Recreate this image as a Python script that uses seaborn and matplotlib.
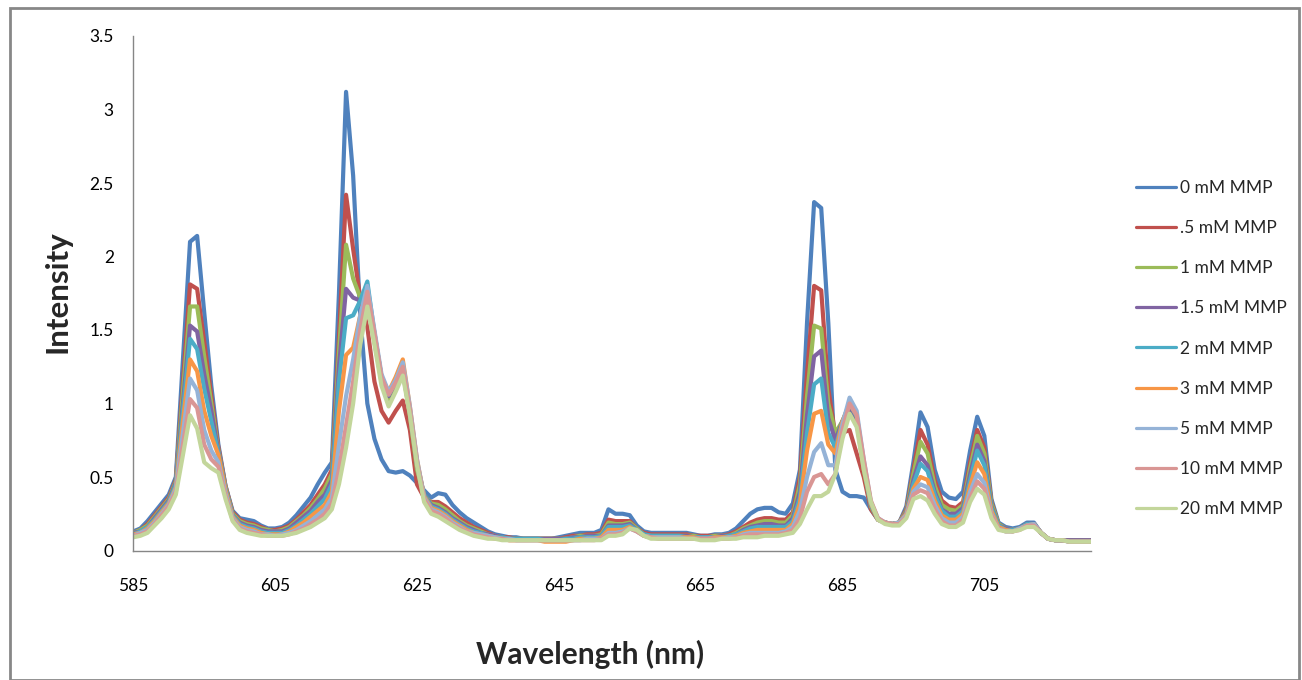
import matplotlib
matplotlib.use("Agg")
import matplotlib.pyplot as plt
from matplotlib.lines import Line2D
from matplotlib.patches import Rectangle
import pandas as pd
import seaborn as sns

# Emission spectra, 1 nm steps
wavelength = list(range(585, 721))

series_labels = ["0 mM MMP", ".5 mM MMP", "1 mM MMP", "1.5 mM MMP", "2 mM MMP",
                 "3 mM MMP", "5 mM MMP", "10 mM MMP", "20 mM MMP"]

series_colors = ["#4F81BD", "#C0504D", "#9BBB59", "#8064A2", "#4BACC6",
                 "#F79646", "#95B3D7", "#D99694", "#C3D69B"]

mmp_0 = [
    0.13, 0.15, 0.20, 0.26, 0.32, 0.38, 0.50, 1.30, 2.10, 2.14,
    1.62, 1.12, 0.72, 0.44, 0.27, 0.22, 0.21, 0.20, 0.17, 0.15,
    0.15, 0.16, 0.19, 0.24, 0.30, 0.36, 0.45, 0.53, 0.60, 1.75,
    3.12, 2.55, 1.60, 1.00, 0.76, 0.62, 0.54, 0.53, 0.54, 0.51,
    0.46, 0.41, 0.36, 0.39, 0.38, 0.31, 0.26, 0.22, 0.19, 0.16,
    0.13, 0.11, 0.10, 0.09, 0.09, 0.08, 0.08, 0.08, 0.08, 0.08,
    0.09, 0.10, 0.11, 0.12, 0.12, 0.12, 0.14, 0.28, 0.25, 0.25,
    0.24, 0.17, 0.13, 0.12, 0.12, 0.12, 0.12, 0.12, 0.12, 0.11,
    0.10, 0.10, 0.11, 0.11, 0.12, 0.15, 0.20, 0.25, 0.28, 0.29,
    0.29, 0.26, 0.25, 0.32, 0.55, 1.55, 2.37, 2.33, 1.55, 0.55,
    0.40, 0.37, 0.37, 0.36, 0.28, 0.21, 0.19, 0.18, 0.19, 0.30,
    0.60, 0.94, 0.84, 0.55, 0.40, 0.36, 0.35, 0.40, 0.68, 0.91,
    0.78, 0.35, 0.19, 0.16, 0.15, 0.16, 0.19, 0.19, 0.12, 0.08,
    0.07, 0.07, 0.07, 0.07, 0.07, 0.07,
]

mmp_05 = [
    0.12, 0.14, 0.18, 0.24, 0.30, 0.36, 0.48, 1.15, 1.81, 1.78,
    1.42, 1.05, 0.70, 0.44, 0.26, 0.21, 0.19, 0.18, 0.16, 0.14,
    0.14, 0.15, 0.17, 0.21, 0.26, 0.31, 0.38, 0.45, 0.55, 1.45,
    2.42, 2.05, 1.72, 1.52, 1.15, 0.95, 0.87, 0.95, 1.02, 0.82,
    0.45, 0.36, 0.33, 0.33, 0.30, 0.26, 0.22, 0.19, 0.16, 0.14,
    0.12, 0.10, 0.09, 0.09, 0.08, 0.08, 0.08, 0.08, 0.08, 0.08,
    0.08, 0.09, 0.10, 0.10, 0.11, 0.11, 0.12, 0.21, 0.20, 0.20,
    0.20, 0.15, 0.12, 0.11, 0.11, 0.11, 0.11, 0.11, 0.11, 0.10,
    0.10, 0.10, 0.10, 0.10, 0.11, 0.13, 0.16, 0.19, 0.21, 0.22,
    0.22, 0.21, 0.21, 0.26, 0.50, 1.20, 1.80, 1.77, 1.10, 0.78,
    0.80, 0.82, 0.66, 0.50, 0.28, 0.21, 0.19, 0.18, 0.19, 0.28,
    0.55, 0.82, 0.72, 0.48, 0.34, 0.30, 0.29, 0.33, 0.60, 0.82,
    0.70, 0.33, 0.18, 0.15, 0.14, 0.15, 0.18, 0.18, 0.12, 0.08,
    0.07, 0.07, 0.07, 0.07, 0.07, 0.07,
]

mmp_1 = [
    0.12, 0.14, 0.17, 0.23, 0.29, 0.35, 0.47, 1.08, 1.66, 1.66,
    1.32, 1.00, 0.68, 0.43, 0.25, 0.20, 0.18, 0.17, 0.15, 0.14,
    0.13, 0.14, 0.16, 0.20, 0.24, 0.29, 0.35, 0.42, 0.52, 1.35,
    2.08, 1.85, 1.72, 1.70, 1.42, 1.15, 1.02, 1.12, 1.22, 0.92,
    0.55, 0.38, 0.32, 0.31, 0.28, 0.24, 0.20, 0.17, 0.15, 0.13,
    0.11, 0.10, 0.09, 0.08, 0.08, 0.08, 0.08, 0.08, 0.08, 0.08,
    0.08, 0.08, 0.09, 0.10, 0.10, 0.10, 0.11, 0.19, 0.18, 0.18,
    0.19, 0.15, 0.11, 0.10, 0.10, 0.10, 0.10, 0.10, 0.10, 0.10,
    0.09, 0.09, 0.10, 0.10, 0.10, 0.12, 0.15, 0.17, 0.19, 0.20,
    0.20, 0.19, 0.19, 0.24, 0.45, 1.05, 1.53, 1.51, 1.00, 0.80,
    0.88, 0.96, 0.88, 0.55, 0.30, 0.21, 0.19, 0.18, 0.19, 0.27,
    0.52, 0.74, 0.66, 0.44, 0.31, 0.28, 0.27, 0.31, 0.56, 0.78,
    0.66, 0.32, 0.18, 0.15, 0.14, 0.15, 0.18, 0.18, 0.12, 0.08,
    0.07, 0.07, 0.07, 0.07, 0.07, 0.07,
]

mmp_15 = [
    0.12, 0.13, 0.16, 0.22, 0.28, 0.34, 0.46, 1.00, 1.53, 1.49,
    1.20, 0.95, 0.67, 0.42, 0.24, 0.19, 0.17, 0.16, 0.14, 0.13,
    0.13, 0.13, 0.15, 0.19, 0.23, 0.27, 0.33, 0.38, 0.48, 1.25,
    1.78, 1.72, 1.70, 1.75, 1.45, 1.18, 1.05, 1.15, 1.22, 0.94,
    0.58, 0.38, 0.31, 0.29, 0.26, 0.22, 0.19, 0.16, 0.14, 0.12,
    0.11, 0.10, 0.09, 0.08, 0.08, 0.08, 0.08, 0.08, 0.08, 0.08,
    0.08, 0.08, 0.09, 0.09, 0.10, 0.10, 0.10, 0.17, 0.17, 0.17,
    0.18, 0.14, 0.11, 0.10, 0.10, 0.10, 0.10, 0.10, 0.10, 0.09,
    0.09, 0.09, 0.09, 0.10, 0.10, 0.11, 0.14, 0.16, 0.17, 0.18,
    0.18, 0.17, 0.17, 0.22, 0.40, 0.92, 1.32, 1.36, 0.90, 0.75,
    0.88, 0.98, 0.90, 0.57, 0.31, 0.21, 0.19, 0.18, 0.19, 0.26,
    0.48, 0.64, 0.58, 0.40, 0.28, 0.25, 0.25, 0.29, 0.52, 0.72,
    0.61, 0.30, 0.17, 0.15, 0.14, 0.15, 0.18, 0.18, 0.12, 0.08,
    0.07, 0.07, 0.07, 0.07, 0.07, 0.07,
]

mmp_2 = [
    0.11, 0.13, 0.16, 0.21, 0.27, 0.33, 0.45, 0.95, 1.44, 1.37,
    1.10, 0.88, 0.66, 0.42, 0.24, 0.18, 0.16, 0.15, 0.13, 0.12,
    0.12, 0.12, 0.14, 0.17, 0.21, 0.25, 0.30, 0.35, 0.45, 1.15,
    1.58, 1.60, 1.70, 1.83, 1.48, 1.18, 1.06, 1.15, 1.25, 0.95,
    0.60, 0.38, 0.30, 0.28, 0.25, 0.21, 0.18, 0.15, 0.13, 0.12,
    0.10, 0.09, 0.09, 0.08, 0.08, 0.08, 0.08, 0.08, 0.07, 0.07,
    0.07, 0.08, 0.08, 0.09, 0.09, 0.09, 0.10, 0.16, 0.16, 0.16,
    0.17, 0.14, 0.11, 0.10, 0.10, 0.10, 0.10, 0.10, 0.09, 0.09,
    0.09, 0.09, 0.09, 0.09, 0.10, 0.11, 0.13, 0.15, 0.16, 0.16,
    0.16, 0.16, 0.16, 0.20, 0.36, 0.80, 1.13, 1.17, 0.80, 0.70,
    0.88, 1.00, 0.91, 0.58, 0.31, 0.21, 0.19, 0.18, 0.19, 0.25,
    0.45, 0.59, 0.54, 0.38, 0.27, 0.23, 0.23, 0.27, 0.48, 0.68,
    0.58, 0.29, 0.17, 0.14, 0.14, 0.15, 0.18, 0.18, 0.12, 0.08,
    0.07, 0.07, 0.06, 0.06, 0.06, 0.06,
]

mmp_3 = [
    0.11, 0.12, 0.15, 0.20, 0.26, 0.32, 0.43, 0.88, 1.30, 1.22,
    0.95, 0.78, 0.65, 0.41, 0.23, 0.17, 0.15, 0.14, 0.12, 0.11,
    0.11, 0.11, 0.13, 0.16, 0.19, 0.23, 0.27, 0.31, 0.40, 0.95,
    1.33, 1.38, 1.60, 1.76, 1.48, 1.18, 1.08, 1.18, 1.30, 0.98,
    0.62, 0.37, 0.29, 0.27, 0.24, 0.20, 0.17, 0.14, 0.12, 0.11,
    0.10, 0.09, 0.08, 0.07, 0.07, 0.07, 0.07, 0.07, 0.06, 0.06,
    0.06, 0.06, 0.07, 0.08, 0.08, 0.08, 0.09, 0.14, 0.14, 0.14,
    0.16, 0.13, 0.10, 0.09, 0.09, 0.09, 0.09, 0.09, 0.09, 0.09,
    0.08, 0.08, 0.09, 0.09, 0.09, 0.10, 0.12, 0.13, 0.14, 0.14,
    0.14, 0.14, 0.14, 0.18, 0.32, 0.68, 0.93, 0.95, 0.72, 0.66,
    0.88, 1.00, 0.92, 0.59, 0.32, 0.21, 0.19, 0.18, 0.19, 0.25,
    0.42, 0.50, 0.48, 0.34, 0.24, 0.21, 0.21, 0.25, 0.44, 0.60,
    0.52, 0.27, 0.16, 0.14, 0.13, 0.15, 0.17, 0.18, 0.12, 0.08,
    0.07, 0.07, 0.06, 0.06, 0.06, 0.06,
]

mmp_5 = [
    0.10, 0.12, 0.14, 0.19, 0.25, 0.31, 0.42, 0.80, 1.17, 1.09,
    0.82, 0.68, 0.60, 0.39, 0.22, 0.16, 0.14, 0.13, 0.11, 0.11,
    0.10, 0.11, 0.12, 0.14, 0.17, 0.20, 0.24, 0.28, 0.36, 0.72,
    1.05, 1.30, 1.60, 1.80, 1.50, 1.20, 1.08, 1.16, 1.28, 0.98,
    0.62, 0.36, 0.28, 0.26, 0.23, 0.19, 0.16, 0.13, 0.12, 0.11,
    0.10, 0.09, 0.08, 0.08, 0.07, 0.07, 0.07, 0.07, 0.07, 0.07,
    0.07, 0.07, 0.07, 0.07, 0.08, 0.08, 0.08, 0.12, 0.12, 0.13,
    0.15, 0.13, 0.10, 0.09, 0.09, 0.09, 0.09, 0.09, 0.08, 0.08,
    0.08, 0.08, 0.08, 0.08, 0.09, 0.09, 0.11, 0.12, 0.12, 0.12,
    0.12, 0.12, 0.13, 0.16, 0.27, 0.50, 0.67, 0.73, 0.58, 0.58,
    0.86, 1.04, 0.95, 0.62, 0.33, 0.22, 0.19, 0.18, 0.19, 0.24,
    0.40, 0.45, 0.43, 0.31, 0.22, 0.19, 0.19, 0.23, 0.40, 0.52,
    0.46, 0.25, 0.15, 0.13, 0.13, 0.15, 0.17, 0.18, 0.12, 0.08,
    0.07, 0.07, 0.06, 0.06, 0.06, 0.06,
]

mmp_10 = [
    0.10, 0.11, 0.13, 0.18, 0.24, 0.30, 0.40, 0.72, 1.03, 0.97,
    0.72, 0.62, 0.57, 0.37, 0.21, 0.15, 0.13, 0.12, 0.11, 0.10,
    0.10, 0.10, 0.11, 0.13, 0.15, 0.18, 0.21, 0.25, 0.32, 0.55,
    0.85, 1.15, 1.50, 1.76, 1.48, 1.18, 1.06, 1.14, 1.25, 0.96,
    0.60, 0.35, 0.27, 0.25, 0.22, 0.18, 0.15, 0.13, 0.11, 0.10,
    0.09, 0.08, 0.08, 0.07, 0.07, 0.07, 0.07, 0.07, 0.07, 0.07,
    0.07, 0.07, 0.07, 0.07, 0.07, 0.07, 0.08, 0.11, 0.11, 0.12,
    0.15, 0.13, 0.10, 0.09, 0.08, 0.08, 0.08, 0.08, 0.08, 0.08,
    0.08, 0.08, 0.08, 0.08, 0.08, 0.09, 0.10, 0.11, 0.11, 0.11,
    0.11, 0.11, 0.12, 0.14, 0.22, 0.40, 0.50, 0.52, 0.45, 0.52,
    0.82, 1.00, 0.92, 0.62, 0.34, 0.22, 0.19, 0.18, 0.18, 0.23,
    0.38, 0.41, 0.39, 0.28, 0.20, 0.17, 0.17, 0.21, 0.36, 0.47,
    0.42, 0.24, 0.15, 0.13, 0.13, 0.14, 0.17, 0.17, 0.12, 0.08,
    0.07, 0.07, 0.06, 0.06, 0.06, 0.06,
]

mmp_20 = [
    0.09, 0.10, 0.12, 0.17, 0.22, 0.28, 0.38, 0.65, 0.92, 0.83,
    0.60, 0.56, 0.53, 0.35, 0.20, 0.14, 0.12, 0.11, 0.10, 0.10,
    0.10, 0.10, 0.11, 0.12, 0.14, 0.16, 0.19, 0.22, 0.28, 0.45,
    0.70, 1.00, 1.40, 1.66, 1.40, 1.12, 0.98, 1.08, 1.19, 0.92,
    0.58, 0.33, 0.25, 0.23, 0.20, 0.17, 0.14, 0.12, 0.10, 0.09,
    0.08, 0.08, 0.07, 0.07, 0.07, 0.07, 0.07, 0.07, 0.07, 0.07,
    0.07, 0.07, 0.07, 0.07, 0.07, 0.07, 0.07, 0.10, 0.10, 0.11,
    0.15, 0.14, 0.10, 0.08, 0.08, 0.08, 0.08, 0.08, 0.08, 0.08,
    0.07, 0.07, 0.07, 0.08, 0.08, 0.08, 0.09, 0.09, 0.09, 0.10,
    0.10, 0.10, 0.11, 0.12, 0.18, 0.28, 0.37, 0.37, 0.40, 0.52,
    0.76, 0.93, 0.84, 0.55, 0.33, 0.21, 0.18, 0.17, 0.17, 0.22,
    0.35, 0.37, 0.34, 0.25, 0.18, 0.16, 0.16, 0.19, 0.33, 0.42,
    0.38, 0.22, 0.14, 0.13, 0.13, 0.14, 0.16, 0.16, 0.12, 0.08,
    0.07, 0.07, 0.06, 0.06, 0.06, 0.06,
]

series_values = [mmp_0, mmp_05, mmp_1, mmp_15, mmp_2, mmp_3, mmp_5, mmp_10, mmp_20]

x_ticks = [585, 605, 625, 645, 665, 685, 705]
y_ticks = [0, 0.5, 1, 1.5, 2, 2.5, 3, 3.5]
y_tick_labels = ["0", "0.5", "1", "1.5", "2", "2.5", "3", "3.5"]

frames = []
for label, values in zip(series_labels, series_values):
    frames.append(pd.DataFrame({"Wavelength": wavelength, "Intensity": values, "Series": label}))
df = pd.concat(frames, ignore_index=True)

sns.set_style("white")
plt.rcParams["font.family"] = ["Lato", "DejaVu Sans"]

W, H = 1302, 680
fig = plt.figure(figsize=(W / 100, H / 100), dpi=100)

# plot area in pixel coordinates
left, right, top, bottom = 133.3, 1090.7, 36.0, 550.5
ax = fig.add_axes([left / W, 1 - bottom / H, (right - left) / W, (bottom - top) / H])

palette = dict(zip(series_labels, series_colors))
sns.lineplot(data=df, x="Wavelength", y="Intensity", hue="Series", hue_order=series_labels,
             palette=palette, linewidth=3.0, estimator=None, sort=False, legend=False, ax=ax)

ax.set_xlim(585, 720)
ax.set_ylim(0, 3.5)
ax.set_xticks(x_ticks)
ax.set_xticklabels([str(t) for t in x_ticks])
ax.set_yticks(y_ticks)
ax.set_yticklabels(y_tick_labels)
ax.set_xlabel("")
ax.set_ylabel("")
ax.tick_params(axis="both", length=0, labelsize=12.5, colors="black")
ax.tick_params(axis="y", pad=14)
ax.tick_params(axis="x", pad=20)
for side in ["top", "right"]:
    ax.spines[side].set_visible(False)
for side in ["left", "bottom"]:
    ax.spines[side].set_color("#868686")
    ax.spines[side].set_linewidth(1.0)

fig.text(57 / W, 1 - 292 / H, "Intensity", rotation=90, ha="center", va="center",
         fontsize=22.5, fontweight="bold")
fig.text(590 / W, 1 - 654 / H, "Wavelength (nm)", ha="center", va="center",
         fontsize=21.5, fontweight="bold")

handles = [Line2D([0], [0], color=c, lw=2.3) for c in series_colors]
fig.legend(handles, series_labels, loc="upper left",
           bbox_to_anchor=(1136 / W, 1 - 180 / H), frameon=False, fontsize=12.5,
           handlelength=2.3, handletextpad=0.23, labelspacing=1.39,
           borderpad=0, borderaxespad=0)

# chart frame
fig.patches.append(Rectangle((10 / W, 0), (1299 - 10) / W, 1 - 8 / H, transform=fig.transFigure,
                             fill=False, edgecolor="#878787", linewidth=2.0))

fig.savefig("out.png", dpi=100)
